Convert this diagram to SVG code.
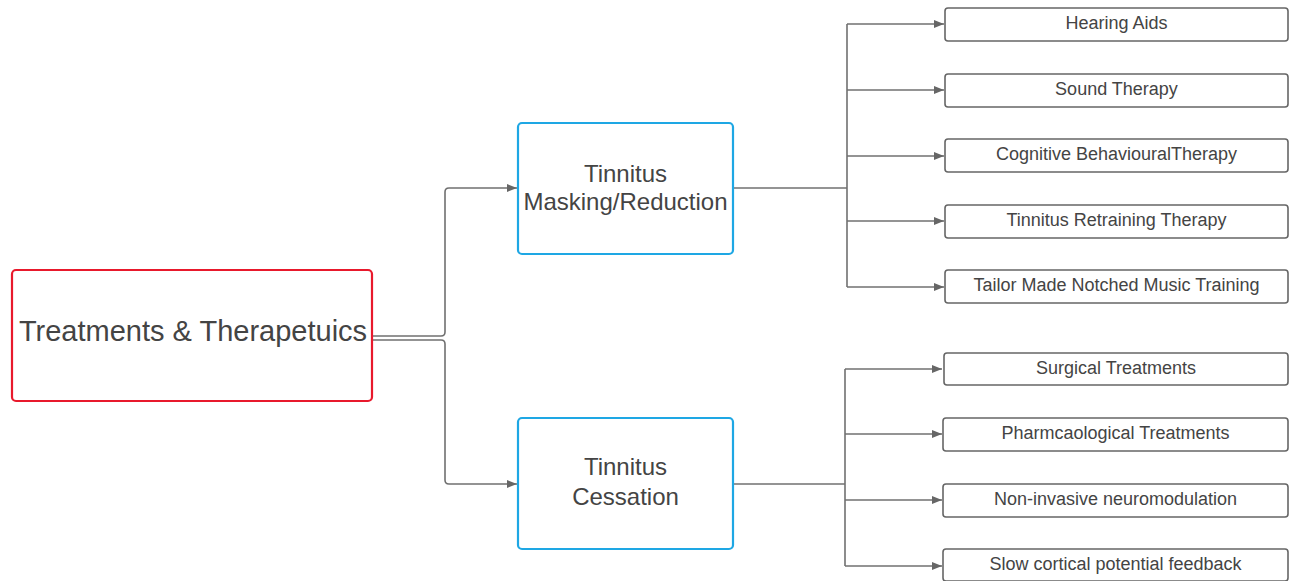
<svg xmlns="http://www.w3.org/2000/svg" width="1289" height="581" viewBox="0 0 1289 581">
<style>
.t{font-family:"Liberation Sans",Arial,sans-serif;fill:#444;text-anchor:middle;dominant-baseline:central}
.leaf rect{fill:#fff;stroke:#666;stroke-width:1.6}
.leaf text{font-size:18px}
.mid rect{fill:#fff;stroke:#1ea7e4;stroke-width:2.2}
.mid text{font-size:24px}
.con path{fill:none;stroke:#707070;stroke-width:1.6}
</style>
<defs>
<marker id="ah" viewBox="0 0 10 8" refX="10" refY="4" markerWidth="10" markerHeight="8" markerUnits="userSpaceOnUse" orient="auto">
<path d="M0,0 L10,4 L0,8 z" fill="#666"/>
</marker>
</defs>
<g class="con">
<path d="M372,336 H441 Q445,336 445,332 V192 Q445,188 449,188 H517" marker-end="url(#ah)"/>
<path d="M372,340 H441 Q445,340 445,344 V480 Q445,484 449,484 H517" marker-end="url(#ah)"/>
<path d="M733,188 H847"/>
<path d="M847,24 V287"/>
<path d="M847,24 H944" marker-end="url(#ah)"/>
<path d="M847,90 H944" marker-end="url(#ah)"/>
<path d="M847,156 H944" marker-end="url(#ah)"/>
<path d="M847,221 H944" marker-end="url(#ah)"/>
<path d="M847,287 H944" marker-end="url(#ah)"/>
<path d="M733,484 H845"/>
<path d="M845,369 V566"/>
<path d="M845,369 H942" marker-end="url(#ah)"/>
<path d="M845,434 H942" marker-end="url(#ah)"/>
<path d="M845,500 H942" marker-end="url(#ah)"/>
<path d="M845,566 H942" marker-end="url(#ah)"/>
</g>
<g id="root">
<rect x="12" y="270" width="360" height="131" rx="4" fill="#fff" stroke="#e8192c" stroke-width="2.2"/>
<text class="t" x="193" y="331" font-size="29">Treatments &amp; Therapetuics</text>
</g>
<g id="masking" class="mid">
<rect x="518" y="123" width="215" height="131" rx="4"/>
<text class="t" x="625.5" y="173">Tinnitus</text>
<text class="t" x="625.5" y="201">Masking/Reduction</text>
</g>
<g id="cessation" class="mid">
<rect x="518" y="418" width="215" height="131" rx="4"/>
<text class="t" x="625.5" y="466">Tinnitus</text>
<text class="t" x="625.5" y="496">Cessation</text>
</g>
<g id="hearing" class="leaf">
<rect x="945" y="8" width="343" height="33" rx="3"/>
<text class="t" x="1116.5" y="23">Hearing Aids</text>
</g>
<g id="sound" class="leaf">
<rect x="945" y="74" width="343" height="33" rx="3"/>
<text class="t" x="1116.5" y="89">Sound Therapy</text>
</g>
<g id="cbt" class="leaf">
<rect x="945" y="139" width="343" height="33" rx="3"/>
<text class="t" x="1116.5" y="154">Cognitive BehaviouralTherapy</text>
</g>
<g id="trt" class="leaf">
<rect x="945" y="205" width="343" height="33" rx="3"/>
<text class="t" x="1116.5" y="220">Tinnitus Retraining Therapy</text>
</g>
<g id="tmnmt" class="leaf">
<rect x="945" y="270" width="343" height="33" rx="3"/>
<text class="t" x="1116.5" y="285">Tailor Made Notched Music Training</text>
</g>
<g id="surgical" class="leaf">
<rect x="944" y="353" width="344" height="32" rx="3"/>
<text class="t" x="1116" y="368">Surgical Treatments</text>
</g>
<g id="pharm" class="leaf">
<rect x="943" y="418" width="345" height="33" rx="3"/>
<text class="t" x="1115.5" y="433">Pharmcaological Treatments</text>
</g>
<g id="noninvasive" class="leaf">
<rect x="943" y="484" width="345" height="33" rx="3"/>
<text class="t" x="1115.5" y="499">Non-invasive neuromodulation</text>
</g>
<g id="slow" class="leaf">
<rect x="943" y="549" width="345" height="32" rx="3"/>
<text class="t" x="1115.5" y="564">Slow cortical potential feedback</text>
</g>
</svg>
